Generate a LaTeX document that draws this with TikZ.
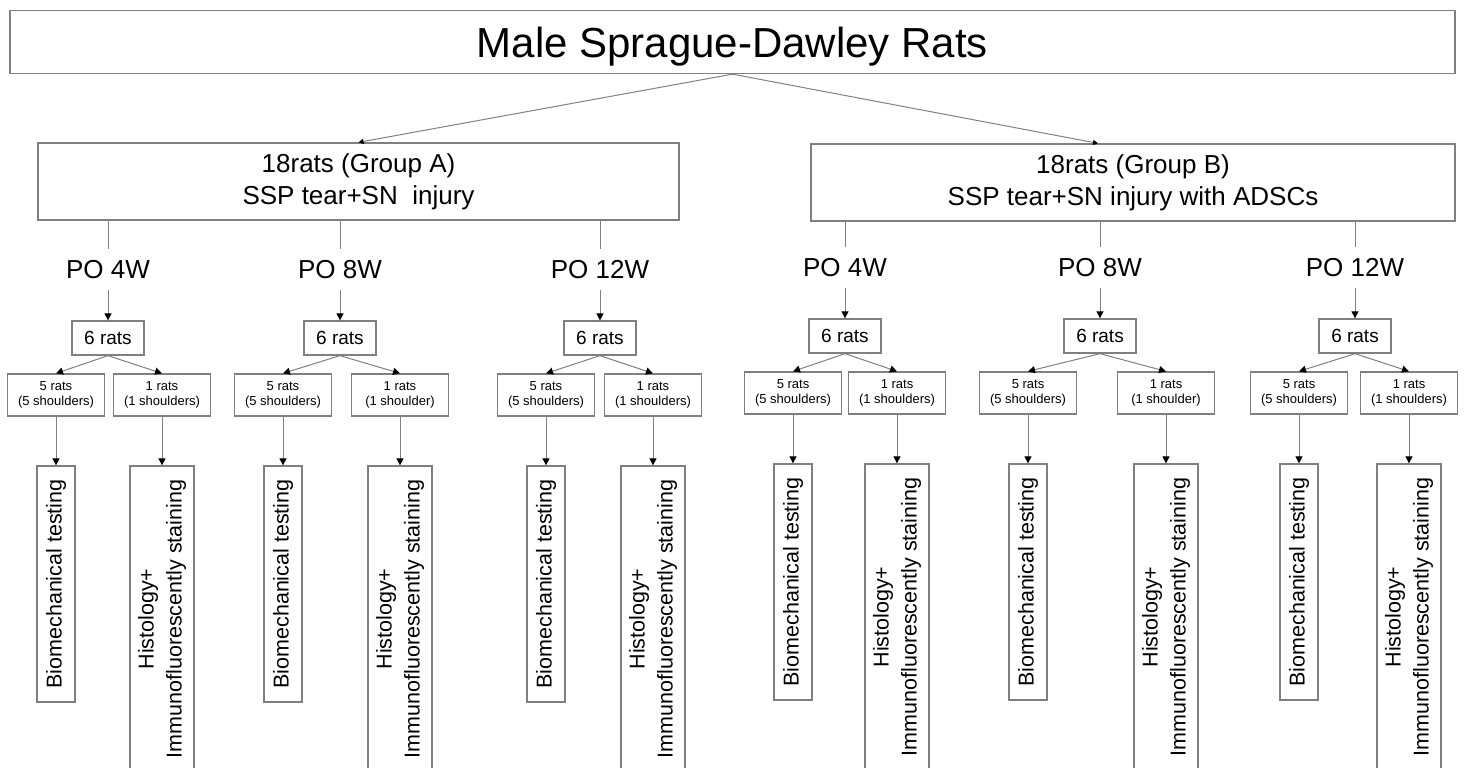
\documentclass[tikz,border=0pt]{standalone}
\usepackage{fontspec}
\setmainfont{Liberation Sans}
\usepackage{graphicx}
\usetikzlibrary{positioning, arrows.meta}
\definecolor{boxgray}{RGB}{128,128,128}
\tikzstyle{box} = [rectangle, draw=boxgray, line width=1.3pt, inner sep=0pt, text centered]
\tikzstyle{headbox} = [box, minimum width=1445pt, minimum height=63pt, text depth=0pt, font=\fontsize{42}{48}\selectfont]
\tikzstyle{groupbox} = [box, minimum width=641pt, minimum height=77pt, align=center, font=\fontsize{26}{32}\selectfont]
\tikzstyle{timepoint} = [inner xsep=0pt, inner ysep=11pt, font=\fontsize{26}{31}\selectfont]
\tikzstyle{sixbox} = [box, node distance=68.5pt, minimum width=72pt, minimum height=34pt, font=\fontsize{19}{22}\selectfont]
\tikzstyle{subbox} = [box, node distance=57pt, minimum width=97pt, minimum height=42pt, align=center, font=\fontsize{13}{15}\selectfont]
\tikzstyle{biobox} = [box, node distance=189pt, minimum width=38pt, minimum height=236pt, font=\fontsize{21.5}{28}\selectfont]
\tikzstyle{histbox} = [box, node distance=224pt, minimum width=64pt, minimum height=306pt, font=\fontsize{21.5}{28}\selectfont]
\tikzstyle{link} = [draw=boxgray, line width=1pt]
\tikzstyle{arrow} = [link, -{Triangle[black, length=7pt, width=7pt]}]
\tikzstyle{toparrow} = [link, -{Triangle[black, length=5pt, width=5pt]}]

\begin{document}
\begin{tikzpicture}[x=1pt, y=-1pt]
        \useasboundingbox (0,0) rectangle (1465,768);
        \node (rats) [headbox] at (732.5,42) {Male Sprague-Dawley Rats};
        \node (grpA) [groupbox] at (358.5,181.5) {18rats (Group A)\\SSP tear+SN~~injury};
        \node (grpB) [groupbox, minimum width=644pt] at (1133,182.5) {18rats (Group B)\\SSP tear+SN injury with ADSCs};

        % group A
        \node (poA1) [timepoint] at (108,269.5) {PO 4W};
        \node (poA2) [timepoint] at (340,269.5) {PO 8W};
        \node (poA3) [timepoint] at (600,269.5) {PO 12W};
        \node (sixA1) [sixbox, below of=poA1] {6 rats};
        \node (sixA2) [sixbox, below of=poA2] {6 rats};
        \node (sixA3) [sixbox, below of=poA3] {6 rats};
        \node (fiveA1) [subbox, below of=sixA1, xshift=-52pt] {5 rats\\(5 shoulders)};
        \node (oneA1) [subbox, below of=sixA1, xshift=54pt] {1 rats\\(1 shoulders)};
        \node (fiveA2) [subbox, below of=sixA2, xshift=-57pt] {5 rats\\(5 shoulders)};
        \node (oneA2) [subbox, below of=sixA2, xshift=60pt] {1 rats\\(1 shoulder)};
        \node (fiveA3) [subbox, below of=sixA3, xshift=-54pt] {5 rats\\(5 shoulders)};
        \node (oneA3) [subbox, below of=sixA3, xshift=53pt] {1 rats\\(1 shoulders)};
        \node (bioA1) [biobox, below of=fiveA1] {\rotatebox{90}{Biomechanical testing}};
        \node (bioA2) [biobox, below of=fiveA2] {\rotatebox{90}{Biomechanical testing}};
        \node (bioA3) [biobox, below of=fiveA3] {\rotatebox{90}{Biomechanical testing}};
        \node (histA1) [histbox, below of=oneA1] {\rotatebox{90}{\begin{tabular}{@{}c@{}}Histology+\\Immunofluorescently staining\end{tabular}}};
        \node (histA2) [histbox, below of=oneA2] {\rotatebox{90}{\begin{tabular}{@{}c@{}}Histology+\\Immunofluorescently staining\end{tabular}}};
        \node (histA3) [histbox, below of=oneA3] {\rotatebox{90}{\begin{tabular}{@{}c@{}}Histology+\\Immunofluorescently staining\end{tabular}}};

        % group B
        \node (poB1) [timepoint] at (845,267.5) {PO 4W};
        \node (poB2) [timepoint] at (1100,267.5) {PO 8W};
        \node (poB3) [timepoint] at (1355,267.5) {PO 12W};
        \node (sixB1) [sixbox, below of=poB1] {6 rats};
        \node (sixB2) [sixbox, below of=poB2] {6 rats};
        \node (sixB3) [sixbox, below of=poB3] {6 rats};
        \node (fiveB1) [subbox, below of=sixB1, xshift=-52pt] {5 rats\\(5 shoulders)};
        \node (oneB1) [subbox, below of=sixB1, xshift=52pt] {1 rats\\(1 shoulders)};
        \node (fiveB2) [subbox, below of=sixB2, xshift=-72pt] {5 rats\\(5 shoulders)};
        \node (oneB2) [subbox, below of=sixB2, xshift=66pt] {1 rats\\(1 shoulder)};
        \node (fiveB3) [subbox, below of=sixB3, xshift=-56pt] {5 rats\\(5 shoulders)};
        \node (oneB3) [subbox, below of=sixB3, xshift=54pt] {1 rats\\(1 shoulders)};
        \node (bioB1) [biobox, below of=fiveB1] {\rotatebox{90}{Biomechanical testing}};
        \node (bioB2) [biobox, below of=fiveB2] {\rotatebox{90}{Biomechanical testing}};
        \node (bioB3) [biobox, below of=fiveB3] {\rotatebox{90}{Biomechanical testing}};
        \node (histB1) [histbox, below of=oneB1] {\rotatebox{90}{\begin{tabular}{@{}c@{}}Histology+\\Immunofluorescently staining\end{tabular}}};
        \node (histB2) [histbox, below of=oneB2] {\rotatebox{90}{\begin{tabular}{@{}c@{}}Histology+\\Immunofluorescently staining\end{tabular}}};
        \node (histB3) [histbox, below of=oneB3] {\rotatebox{90}{\begin{tabular}{@{}c@{}}Histology+\\Immunofluorescently staining\end{tabular}}};

        \draw [toparrow] (rats.south) -- (grpA.north);
        \draw [toparrow] (rats.south) -- ([xshift=-35pt]grpB.north);

        \draw [link] (grpA.south -| poA1) -- (poA1);
        \draw [link] (grpA.south -| poA2) -- (poA2);
        \draw [link] (grpA.south -| poA3) -- (poA3);
        \draw [link] (grpB.south -| poB1) -- (poB1);
        \draw [link] (grpB.south -| poB2) -- (poB2);
        \draw [link] (grpB.south -| poB3) -- (poB3);

        \draw [arrow] (poA1) -- (sixA1);
        \draw [arrow] (poA2) -- (sixA2);
        \draw [arrow] (poA3) -- (sixA3);
        \draw [arrow] (poB1) -- (sixB1);
        \draw [arrow] (poB2) -- (sixB2);
        \draw [arrow] (poB3) -- (sixB3);

        \draw [arrow] (sixA1.south) -- (fiveA1.north);
        \draw [arrow] (sixA1.south) -- (oneA1.north);
        \draw [arrow] (sixA2.south) -- (fiveA2.north);
        \draw [arrow] (sixA2.south) -- (oneA2.north);
        \draw [arrow] (sixA3.south) -- (fiveA3.north);
        \draw [arrow] (sixA3.south) -- (oneA3.north);
        \draw [arrow] (sixB1.south) -- (fiveB1.north);
        \draw [arrow] (sixB1.south) -- (oneB1.north);
        \draw [arrow] (sixB2.south) -- (fiveB2.north);
        \draw [arrow] (sixB2.south) -- (oneB2.north);
        \draw [arrow] (sixB3.south) -- (fiveB3.north);
        \draw [arrow] (sixB3.south) -- (oneB3.north);

        \draw [arrow] (fiveA1) -- (bioA1);
        \draw [arrow] (oneA1) -- (histA1);
        \draw [arrow] (fiveA2) -- (bioA2);
        \draw [arrow] (oneA2) -- (histA2);
        \draw [arrow] (fiveA3) -- (bioA3);
        \draw [arrow] (oneA3) -- (histA3);
        \draw [arrow] (fiveB1) -- (bioB1);
        \draw [arrow] (oneB1) -- (histB1);
        \draw [arrow] (fiveB2) -- (bioB2);
        \draw [arrow] (oneB2) -- (histB2);
        \draw [arrow] (fiveB3) -- (bioB3);
        \draw [arrow] (oneB3) -- (histB3);

\end{tikzpicture}
\end{document}
